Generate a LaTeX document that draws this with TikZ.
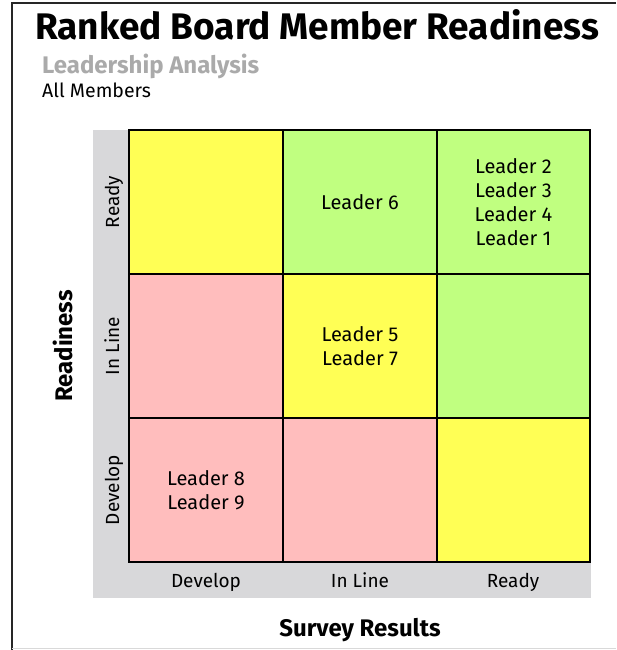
\documentclass[tikz,border=0pt]{standalone}
\usepackage{fontspec}
\setmainfont{Fira Sans}
\begin{document}
\begin{tikzpicture}[x=1pt,y=-1pt,
  cellbox/.style={draw=black,line width=1.8pt},
  celltext/.style={align=center,font=\fontsize{20}{24}\selectfont,text=black},
  axistext/.style={font=\fontsize{19}{22}\selectfont,text=black},
  axistitle/.style={font=\fontsize{24}{28}\selectfont\bfseries,text=black}]
\definecolor{cellyellow}{RGB}{255,255,85}
\definecolor{cellgreen}{RGB}{192,255,128}
\definecolor{cellpink}{RGB}{255,189,189}
\definecolor{bandgray}{RGB}{216,216,218}
\definecolor{subgray}{RGB}{170,170,170}
\useasboundingbox (0,0) rectangle (616,650);
\fill[white] (0,0) rectangle (616,650);
% frame
\draw[line width=2pt,black!85] (12,650) -- (12,3) -- (616,3);
\draw[line width=1pt,black!15] (12,648) -- (616,648);
% headings
\node[anchor=base west,font=\fontsize{37}{40}\selectfont\bfseries,inner sep=0] (title) at (35,40) {Ranked Board Member Readiness};
\node[anchor=base west,font=\fontsize{24}{26}\selectfont\bfseries,text=subgray,inner sep=0] (subtitle) at (42,74) {Leadership Analysis};
\node[anchor=base west,font=\fontsize{19.5}{22}\selectfont,inner sep=0] (scope) at (42,98) {All Members};
% axis band
\fill[bandgray] (93,130) rectangle (591,598);
% cells (row 1 = top)
\path[cellbox,fill=cellyellow] (129,130) rectangle (283,274) node[pos=.5] (c11) {};
\path[cellbox,fill=cellgreen]  (283,130) rectangle (437,274) node[pos=.5] (c12) {};
\path[cellbox,fill=cellgreen]  (437,130) rectangle (590,274) node[pos=.5] (c13) {};
\path[cellbox,fill=cellpink]   (129,274) rectangle (283,418) node[pos=.5] (c21) {};
\path[cellbox,fill=cellyellow] (283,274) rectangle (437,418) node[pos=.5] (c22) {};
\path[cellbox,fill=cellgreen]  (437,274) rectangle (590,418) node[pos=.5] (c23) {};
\path[cellbox,fill=cellpink]   (129,418) rectangle (283,562) node[pos=.5] (c31) {};
\path[cellbox,fill=cellpink]   (283,418) rectangle (437,562) node[pos=.5] (c32) {};
\path[cellbox,fill=cellyellow] (437,418) rectangle (590,562) node[pos=.5] (c33) {};
% cell contents
\node[celltext] (t12) at (c12) {Leader 6};
\node[celltext] (t13) at (c13) {Leader 2\\Leader 3\\Leader 4\\Leader 1};
\node[celltext] (t22) at (c22) {Leader 5\\Leader 7};
\node[celltext] (t31) at (c31) {Leader 8\\Leader 9};
% row labels
\node[axistext,rotate=90,anchor=base] (rReady) at (119,202) {Ready};
\node[axistext,rotate=90,anchor=base] (rInLine) at (119,346) {In Line};
\node[axistext,rotate=90,anchor=base] (rDevelop) at (119,490) {Develop};
% column labels
\node[axistext,anchor=base] (cDevelop) at (206,587) {Develop};
\node[axistext,anchor=base] (cInLine) at (360,587) {In Line};
\node[axistext,anchor=base] (cReady) at (513,587) {Ready};
% axis titles
\node[axistitle,rotate=90] (yTitle) at (63,346) {Readiness};
\node[axistitle] (xTitle) at (360,630) {Survey Results};
\end{tikzpicture}
\end{document}
